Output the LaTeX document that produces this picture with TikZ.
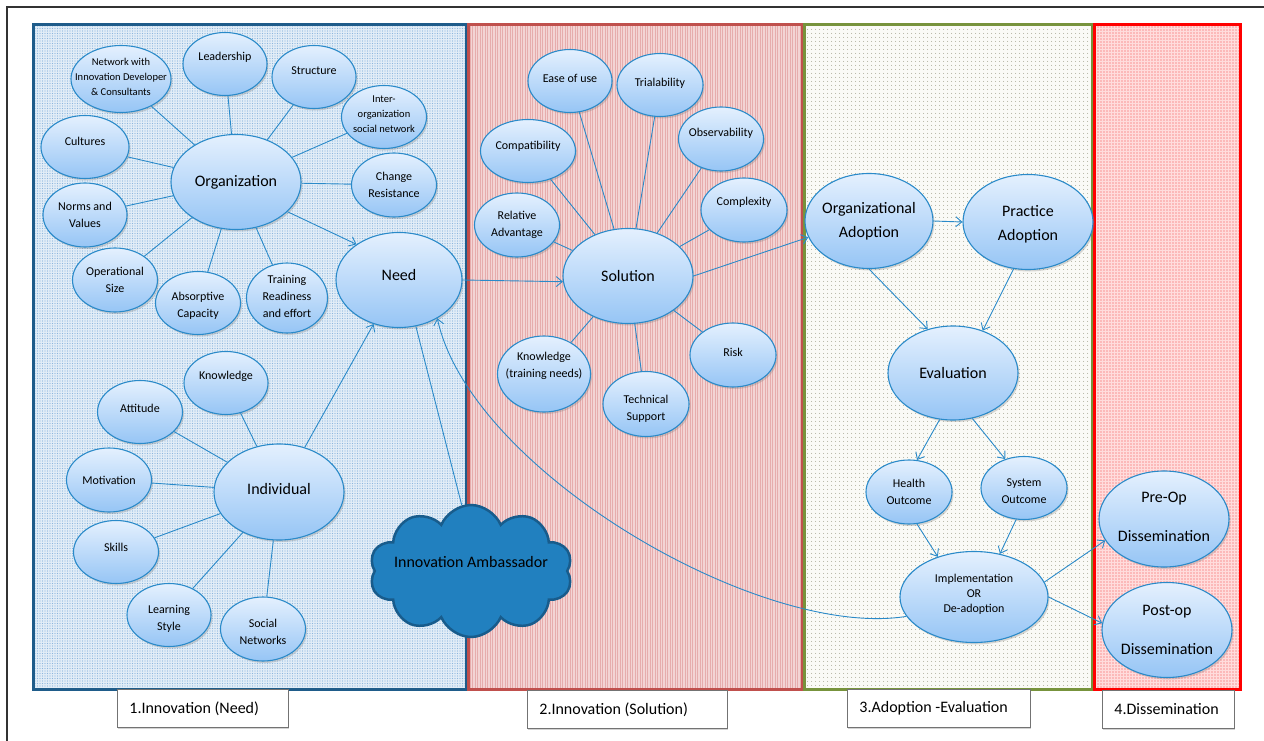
\documentclass[tikz,border=0pt]{standalone}
\usepackage{fontspec}
\setmainfont{Carlito}
\usepackage{xcolor}
\usetikzlibrary{arrows.meta,positioning,calc,shapes.geometric,shapes.symbols,shadows,patterns.meta}

\definecolor{needblue}{RGB}{31,92,138}
\definecolor{solred}{RGB}{192,80,77}
\definecolor{adoptgreen}{RGB}{119,147,60}
\definecolor{dissred}{RGB}{255,0,0}
\definecolor{linkblue}{RGB}{42,138,201}
\definecolor{bubtop}{RGB}{228,240,254}
\definecolor{bubbot}{RGB}{150,197,245}
\definecolor{cloudblue}{RGB}{33,128,191}
\definecolor{clouddark}{RGB}{24,92,140}
\definecolor{needfill}{RGB}{226,237,247}
\definecolor{needdot}{RGB}{140,182,222}
\definecolor{solfill}{RGB}{243,212,212}
\definecolor{solline}{RGB}{230,172,172}
\definecolor{adoptfill}{RGB}{250,250,246}
\definecolor{adoptdot}{RGB}{165,165,145}
\definecolor{dissfill}{RGB}{255,220,220}
\definecolor{dissdot}{RGB}{250,150,150}

\begin{document}
\begin{tikzpicture}[x=1pt,y=-1pt,
    >={Straight Barb[length=6pt,width=10pt]},
    bubble/.style={ellipse, draw=linkblue, line width=1.1pt, top color=bubtop, bottom color=bubbot,
        drop shadow={shadow xshift=1.5pt, shadow yshift=-2pt, opacity=0.3}, inner sep=0pt},
    bubtxt/.style={font=\fontsize{12}{17}\selectfont, align=flush center},
    bubtxtsm/.style={font=\fontsize{10.5}{15}\selectfont, align=flush center},
    bubtxtbig/.style={font=\fontsize{16}{23.7}\selectfont, align=flush center},
    spoke/.style={linkblue, line width=0.9pt},
    flow/.style={->, linkblue, line width=0.9pt},
    tagbox/.style={draw=black!55, fill=white, line width=0.8pt, anchor=north west, minimum height=38pt,
        inner xsep=12pt, align=flush left, font=\fontsize{16}{19}\selectfont,
        drop shadow={shadow xshift=1pt, shadow yshift=-1.2pt, opacity=0.35}}
]
    \useasboundingbox (0,0) rectangle (1264,741);

    % Outer frame
    \draw[black!80, line width=2pt] (7,741) -- (7,7) -- (1264,7);

    % Stage panels
    \draw[preaction={fill=needfill}, preaction={pattern={Dots[distance=2.5pt,radius=0.6pt]}, pattern color=needdot},
        draw=needblue, line width=3pt] (33,25) rectangle (466,689);
    \draw[preaction={fill=solfill}, preaction={pattern={Lines[angle=90,distance=2.5pt,line width=0.5pt]}, pattern color=solline},
        draw=solred, line width=3pt] (468,25) rectangle (802,689);
    \draw[preaction={fill=adoptfill}, preaction={pattern={Dots[distance=4pt,radius=0.6pt]}, pattern color=adoptdot},
        draw=adoptgreen, line width=3pt] (804,25) rectangle (1092,689);
    \draw[preaction={fill=dissfill}, preaction={pattern={Dots[distance=3pt,radius=0.8pt]}, pattern color=dissdot},
        draw=dissred, line width=3pt] (1094,25) rectangle (1240,689);

    % Stage titles
    \node[tagbox, minimum width=171pt, text width=147pt] (tag1) at (117,689) {1.Innovation (Need)};
    \node[tagbox, minimum width=200pt, text width=176pt] (tag2) at (527,690) {2.Innovation (Solution)};
    \node[tagbox, minimum width=183pt, text width=159pt] (tag3) at (847,689) {3.Adoption -Evaluation};
    \node[tagbox, minimum width=132pt, text width=108pt] (tag4) at (1102,690) {4.Dissemination};

    % Organization and its factors
    \node[bubble, minimum width=130pt, minimum height=95pt, label={[bubtxtbig]center:Organization}] (org) at (236,182) {};
    \node[bubble, minimum width=100pt, minimum height=67pt, label={[bubtxtsm,yshift=2pt]center:{Network with\\Innovation Developer\\\& Consultants}}] (netw) at (121,79) {};
    \node[bubble, minimum width=84pt, minimum height=63pt, label={[bubtxt,yshift=7pt]center:Leadership}] (lead) at (225,64) {};
    \node[bubble, minimum width=84pt, minimum height=63pt, label={[bubtxt,yshift=6pt]center:Structure}] (struct) at (314,77) {};
    \node[bubble, minimum width=85pt, minimum height=63pt, label={[bubtxtsm,yshift=3pt]center:{Inter-\\organization\\social network}}] (inter) at (384,117) {};
    \node[bubble, minimum width=88pt, minimum height=63pt, label={[bubtxt,yshift=6pt]center:Cultures}] (cult) at (85,147) {};
    \node[bubble, minimum width=85pt, minimum height=64pt, label={[bubtxt]center:{Change\\Resistance}}] (chres) at (394,185) {};
    \node[bubble, minimum width=84pt, minimum height=64pt, label={[bubtxt]center:{Norms and\\Values}}] (norms) at (85,215) {};
    \node[bubble, minimum width=85pt, minimum height=64pt, label={[bubtxt]center:{Operational\\Size}}] (opsize) at (115,280) {};
    \node[bubble, minimum width=85pt, minimum height=63pt, label={[bubtxt,yshift=-3pt]center:{Absorptive\\Capacity}}] (absorp) at (198,303) {};
    \node[bubble, minimum width=81pt, minimum height=70pt, label={[bubtxt,yshift=2pt]center:{Training\\Readiness\\and effort}}] (train) at (287,298) {};

    % Need
    \node[bubble, minimum width=126pt, minimum height=95pt, label={[bubtxtbig,yshift=5pt]center:Need}] (need) at (399,280) {};

    % Individual and its factors
    \node[bubble, minimum width=130pt, minimum height=96pt, label={[bubtxtbig,yshift=3pt]center:Individual}] (indiv) at (279,492) {};
    \node[bubble, minimum width=84pt, minimum height=63pt, label={[bubtxt,yshift=7pt]center:Knowledge}] (knowl) at (226,383) {};
    \node[bubble, minimum width=85pt, minimum height=63pt, label={[bubtxt,yshift=4pt]center:Attitude}] (attit) at (140,412) {};
    \node[bubble, minimum width=85pt, minimum height=64pt, label={[bubtxt]center:Motivation}] (motiv) at (109,480) {};
    \node[bubble, minimum width=85pt, minimum height=63pt, label={[bubtxt,yshift=5pt]center:Skills}] (skills) at (116,552) {};
    \node[bubble, minimum width=84pt, minimum height=63pt, label={[bubtxt,yshift=-4pt]center:{Learning\\Style}}] (learn) at (169,615) {};
    \node[bubble, minimum width=85pt, minimum height=64pt, label={[bubtxt,yshift=-3pt]center:{Social\\Networks}}] (social) at (263,629) {};

    % Innovation ambassador
    \node[cloud, cloud puffs=10, cloud puff arc=135, cloud ignores aspect, minimum width=203pt, minimum height=132pt,
        fill=cloudblue, draw=clouddark, line width=2.5pt,
        label={[bubtxtbig,yshift=9pt]center:Innovation Ambassador}] (amb) at (471,571) {};

    % Solution and its attributes
    \node[bubble, minimum width=130pt, minimum height=95pt, label={[bubtxtbig]center:Solution}] (sol) at (628,276) {};
    \node[bubble, minimum width=84pt, minimum height=63pt, label={[bubtxt,yshift=3pt]center:Ease of use}] (ease) at (570,81) {};
    \node[bubble, minimum width=86pt, minimum height=63pt, label={[bubtxt,yshift=2pt]center:Trialability}] (trial) at (660,85) {};
    \node[bubble, minimum width=95pt, minimum height=63pt, label={[bubtxt,yshift=5pt]center:Compatibility}] (compat) at (528,151) {};
    \node[bubble, minimum width=85pt, minimum height=64pt, label={[bubtxt,yshift=6pt]center:Observability}] (observ) at (721,139) {};
    \node[bubble, minimum width=85pt, minimum height=64pt, label={[bubtxt]center:{Relative\\Advantage}}] (reladv) at (517,225) {};
    \node[bubble, minimum width=86pt, minimum height=64pt, label={[bubtxt,yshift=8pt]center:Complexity}] (complex) at (744,210) {};
    \node[bubble, minimum width=86pt, minimum height=64pt, label={[bubtxt,yshift=3pt]center:Risk}] (risk) at (733,355) {};
    \node[bubble, minimum width=93pt, minimum height=76pt, label={[bubtxt,yshift=8pt]center:{Knowledge\\(training needs)}}] (knowtn) at (544,374) {};
    \node[bubble, minimum width=86pt, minimum height=65pt, label={[bubtxt,yshift=-5pt]center:{Technical\\Support}}] (tech) at (646,404) {};

    % Adoption and evaluation
    \node[bubble, minimum width=128pt, minimum height=95pt, label={[bubtxtbig]center:{Organizational\\Adoption}}] (orgad) at (869,221) {};
    \node[bubble, minimum width=130pt, minimum height=95pt, label={[bubtxtbig,yshift=-2pt]center:{Practice\\Adoption}}] (pract) at (1028,222) {};
    \node[bubble, minimum width=130pt, minimum height=94pt, label={[bubtxtbig]center:Evaluation}] (eval) at (953,373) {};
    \node[bubble, minimum width=86pt, minimum height=64pt, label={[bubtxt]center:{Health\\Outcome}}] (health) at (909,492) {};
    \node[bubble, minimum width=86pt, minimum height=63pt, label={[bubtxt,yshift=-3pt]center:{System\\Outcome}}] (system) at (1024,488) {};
    \node[bubble, minimum width=148pt, minimum height=91pt, label={[bubtxt,font=\fontsize{12}{15}\selectfont,yshift=3pt]center:{Implementation\\OR\\De-adoption}}] (impl) at (974,597) {};

    % Dissemination
    \node[bubble, minimum width=130pt, minimum height=96pt, label={[bubtxtbig,font=\fontsize{16}{39}\selectfont,yshift=2pt]center:{Pre-Op\\Dissemination}}] (preop) at (1164,519) {};
    \node[bubble, minimum width=130pt, minimum height=95pt, label={[bubtxtbig,font=\fontsize{16}{39}\selectfont]center:{Post-op\\Dissemination}}] (postop) at (1167,630) {};

    % Organization spokes
    \draw[spoke] (org) -- (netw);
    \draw[spoke] (org) -- (lead);
    \draw[spoke] (org) -- (struct);
    \draw[spoke] (org) -- (inter);
    \draw[spoke] (org) -- (cult);
    \draw[spoke] (org) -- (chres);
    \draw[spoke] (org) -- (norms);
    \draw[spoke] (org) -- (opsize);
    \draw[spoke] (org) -- (absorp);
    \draw[spoke] (org) -- (train);

    % Individual spokes
    \draw[spoke] (indiv) -- (knowl);
    \draw[spoke] (indiv) -- (attit);
    \draw[spoke] (indiv) -- (motiv);
    \draw[spoke] (indiv) -- (skills);
    \draw[spoke] (indiv) -- (learn);
    \draw[spoke] (indiv) -- (social);

    % Solution spokes
    \draw[spoke] (sol) -- (ease);
    \draw[spoke] (sol) -- (trial);
    \draw[spoke] (sol) -- (compat);
    \draw[spoke] (sol) -- (observ);
    \draw[spoke] (sol) -- (reladv);
    \draw[spoke] (sol) -- (complex);
    \draw[spoke] (sol) -- (risk);
    \draw[spoke] (sol) -- (knowtn);
    \draw[spoke] (sol) -- (tech);

    % Flow between stages
    \draw[flow] (org.-30) -- (need.140);
    \draw[flow] (indiv.60) -- (need.240);
    \draw[spoke] (amb.98) -- (need.290);
    \draw[flow] (need.east) -- (sol.185);
    \draw[flow] (sol.east) -- (orgad.195);
    \draw[flow] (orgad.east) -- (pract.west);
    \draw[flow] (orgad.south) -- (eval.120);
    \draw[flow] (pract.253) -- (eval.55);
    \draw[flow] (eval.254) -- (health.76);
    \draw[flow] (eval.293) -- (system.123);
    \draw[flow] (health.284) -- (impl.132);
    \draw[flow] (system.256) -- (impl.59);
    \draw[flow] (impl.12) -- (preop.200);
    \draw[flow] (impl.east) -- (postop.174);

    % Feedback to need
    \draw[flow] (impl.196) .. controls (760,640) and (470,470) .. (need.315);

\end{tikzpicture}
\end{document}
